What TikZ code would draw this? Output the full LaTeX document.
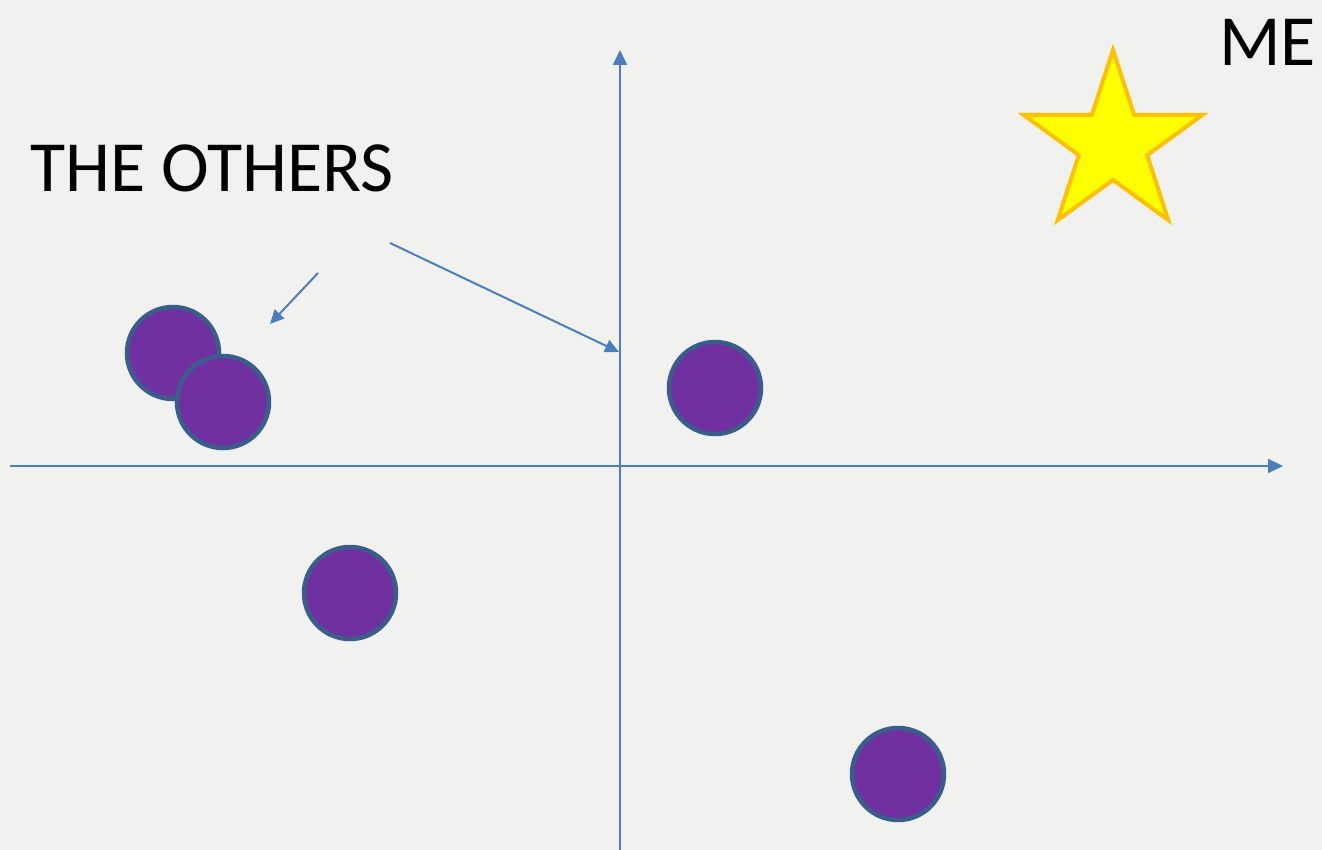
\documentclass[tikz,border=0pt]{standalone}
\usepackage{fontspec}
\setmainfont{Carlito}
\usetikzlibrary{arrows.meta,shapes.geometric}
\definecolor{bg}{HTML}{F1F1EF}
\definecolor{axis}{HTML}{4A7EBF}
\definecolor{dotfill}{HTML}{7030A0}
\definecolor{dotline}{HTML}{3A5E8C}
\definecolor{starfill}{HTML}{FFFF00}
\definecolor{starline}{HTML}{FFC000}
\tikzset{
  axisline/.style={draw=axis, line width=2pt, -{Triangle[length=15pt,width=14pt]}},
  pointer/.style={draw=axis, line width=2pt, -{Triangle[length=14pt,width=13pt]}},
  dot/.style={circle, fill=dotfill, draw=dotline, line width=4.5pt, minimum size=92pt, inner sep=0pt},
  lbl/.style={font=\fontsize{72}{74}\selectfont, text=black, inner sep=0pt, anchor=base west},
}
\begin{document}
\begin{tikzpicture}[x=1pt,y=-1pt]
\fill[bg] (0,0) rectangle (1322,850);
\useasboundingbox (0,0) rectangle (1322,850);
% axes
\coordinate (xs) at (10,466);
\coordinate (xe) at (1283,466);
\coordinate (ys) at (620,850);
\coordinate (ye) at (620,50);
\draw[axisline] (xs) -- (xe);
\draw[axisline] (ys) -- (ye);
% dots
\node[dot] (d1) at (173,353) {};
\node[dot] (d2) at (223,402) {};
\node[dot] (d3) at (715,388) {};
\node[dot] (d4) at (350,593) {};
\node[dot] (d5) at (898,774) {};
% star
\node[star, star points=5, star point ratio=2.618, minimum size=188pt, inner sep=0pt,
      fill=starfill, draw=starline, line width=4pt] (me) at (1113,144) {};
% labels
\node[lbl] (others) at (30,192) {THE OTHERS};
\node[lbl] (metext) at (1219,66) {ME};
% pointers
\coordinate (p1s) at (318,273);
\coordinate (p1e) at (270,324);
\coordinate (p2s) at (390,243);
\coordinate (p2e) at (619,352);
\draw[pointer] (p1s) -- (p1e);
\draw[pointer] (p2s) -- (p2e);
\end{tikzpicture}
\end{document}
